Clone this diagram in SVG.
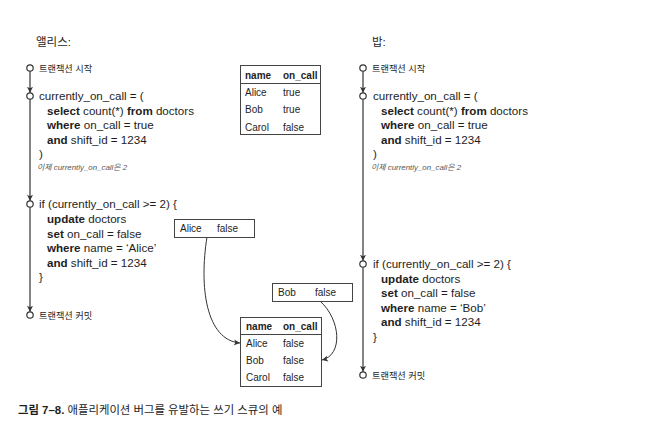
<svg xmlns="http://www.w3.org/2000/svg" width="669" height="436" viewBox="0 0 669 436">
<style>
text{font-family:"Liberation Sans","Noto Sans CJK KR",sans-serif;fill:#1e1e1e}
.code{font-size:11.6px}
.b{font-weight:bold}
.title{font-size:11.5px}
.ev{font-size:9.2px}
.cm{font-size:7.9px;font-style:italic;fill:#555}
.tb{font-size:10px}
.box{fill:#fff;stroke:#444;stroke-width:1}
.sep{stroke:#444;stroke-width:1}
.dot{fill:#fff;stroke:#333;stroke-width:1.2}
.tl{stroke:#333;stroke-width:1.2;fill:none}
.cv{stroke:#333;stroke-width:1;fill:none}
.cap{font-size:11.4px}
</style>
<defs>
<marker id="arr" viewBox="0 0 6 6" refX="6" refY="3" markerWidth="6" markerHeight="6" markerUnits="userSpaceOnUse" orient="auto">
<path d="M0,0 L6,3 L0,6 L1.5,3 z" fill="#333"/>
</marker>
</defs>
<rect width="669" height="436" fill="#fff"/>

<text class="title" x="36" y="46">앨리스:</text>
<text class="title" x="372" y="46">밥:</text>

<g id="connectors">
<line class="tl" x1="30" y1="71.2" x2="30" y2="92.8" marker-end="url(#arr)"/>
<line class="tl" x1="30" y1="99.2" x2="30" y2="200.8" marker-end="url(#arr)"/>
<line class="tl" x1="30" y1="207.2" x2="30" y2="311.8" marker-end="url(#arr)"/>
<line class="tl" x1="363" y1="71.2" x2="363" y2="92.8" marker-end="url(#arr)"/>
<line class="tl" x1="363" y1="99.2" x2="363" y2="260.8" marker-end="url(#arr)"/>
<line class="tl" x1="363" y1="267.2" x2="363" y2="371.8" marker-end="url(#arr)"/>
<path class="cv" d="M207,237 C199,287 206,340 240,343" marker-end="url(#arr)"/>
<path class="cv" d="M320,301 C341,320 343,355 322,360" marker-end="url(#arr)"/>
</g>

<g id="alice-begin">
<circle class="dot" cx="30" cy="68" r="3.2"/>
<text class="ev" x="39" y="71.5">트랜잭션 시작</text>
</g>
<g id="alice-select">
<circle class="dot" cx="30" cy="96" r="3.2"/>
<text class="code" x="39" y="100">currently_on_call = (</text>
<text class="code" x="47" y="114.5"><tspan class="b">select</tspan> count(*) <tspan class="b">from</tspan> doctors</text>
<text class="code" x="47" y="129"><tspan class="b">where</tspan> on_call = true</text>
<text class="code" x="47" y="143.5"><tspan class="b">and</tspan> shift_id = 1234</text>
<text class="code" x="39" y="158">)</text>
<text class="cm" x="37" y="170">이제 currently_on_call은 2</text>
</g>
<g id="alice-update">
<circle class="dot" cx="30" cy="204" r="3.2"/>
<text class="code" x="39" y="208">if (currently_on_call &gt;= 2) {</text>
<text class="code" x="47" y="223"><tspan class="b">update</tspan> doctors</text>
<text class="code" x="47" y="237.5"><tspan class="b">set</tspan> on_call = false</text>
<text class="code" x="47" y="252"><tspan class="b">where</tspan> name = ‘Alice’</text>
<text class="code" x="47" y="266.5"><tspan class="b">and</tspan> shift_id = 1234</text>
<text class="code" x="39" y="281">}</text>
</g>
<g id="alice-commit">
<circle class="dot" cx="30" cy="315" r="3.2"/>
<text class="ev" x="39" y="318.5">트랜잭션 커밋</text>
</g>

<g id="bob-begin">
<circle class="dot" cx="363" cy="68" r="3.2"/>
<text class="ev" x="372" y="71.5">트랜잭션 시작</text>
</g>
<g id="bob-select">
<circle class="dot" cx="363" cy="96" r="3.2"/>
<text class="code" x="373" y="100">currently_on_call = (</text>
<text class="code" x="381" y="114.5"><tspan class="b">select</tspan> count(*) <tspan class="b">from</tspan> doctors</text>
<text class="code" x="381" y="129"><tspan class="b">where</tspan> on_call = true</text>
<text class="code" x="381" y="143.5"><tspan class="b">and</tspan> shift_id = 1234</text>
<text class="code" x="373" y="158">)</text>
<text class="cm" x="371" y="170">이제 currently_on_call은 2</text>
</g>
<g id="bob-update">
<circle class="dot" cx="363" cy="264" r="3.2"/>
<text class="code" x="373" y="268">if (currently_on_call &gt;= 2) {</text>
<text class="code" x="381" y="282.5"><tspan class="b">update</tspan> doctors</text>
<text class="code" x="381" y="297"><tspan class="b">set</tspan> on_call = false</text>
<text class="code" x="381" y="311.5"><tspan class="b">where</tspan> name = ‘Bob’</text>
<text class="code" x="381" y="326"><tspan class="b">and</tspan> shift_id = 1234</text>
<text class="code" x="373" y="341">}</text>
</g>
<g id="bob-commit">
<circle class="dot" cx="363" cy="375" r="3.2"/>
<text class="ev" x="372" y="378.5">트랜잭션 커밋</text>
</g>

<g id="table-before">
<rect class="box" x="240.5" y="65.5" width="80" height="69"/>
<line class="sep" x1="240.5" y1="83.5" x2="320.5" y2="83.5"/>
<text class="tb b" x="245" y="78.5">name</text>
<text class="tb b" x="283" y="78.5">on_call</text>
<text class="tb" x="245" y="96">Alice</text>
<text class="tb" x="283" y="96">true</text>
<text class="tb" x="245" y="113">Bob</text>
<text class="tb" x="283" y="113">true</text>
<text class="tb" x="245" y="130.5">Carol</text>
<text class="tb" x="283" y="130.5">false</text>
</g>

<g id="write-alice">
<rect class="box" x="174.5" y="219.5" width="80" height="18"/>
<text class="tb" x="180" y="232">Alice</text>
<text class="tb" x="217" y="232">false</text>
</g>
<g id="write-bob">
<rect class="box" x="272.5" y="283.5" width="80" height="18"/>
<text class="tb" x="278" y="296">Bob</text>
<text class="tb" x="315" y="296">false</text>
</g>

<g id="table-after">
<rect class="box" x="240.5" y="317.5" width="81" height="69"/>
<line class="sep" x1="240.5" y1="334.5" x2="321.5" y2="334.5"/>
<text class="tb b" x="246" y="329.5">name</text>
<text class="tb b" x="283" y="329.5">on_call</text>
<text class="tb" x="246" y="346.5">Alice</text>
<text class="tb" x="283" y="346.5">false</text>
<text class="tb" x="246" y="363.5">Bob</text>
<text class="tb" x="283" y="363.5">false</text>
<text class="tb" x="246" y="380.5">Carol</text>
<text class="tb" x="283" y="380.5">false</text>
</g>

<text class="cap" x="18" y="414"><tspan class="b">그림 7–8.</tspan> 애플리케이션 버그를 유발하는 쓰기 스큐의 예</text>
</svg>
